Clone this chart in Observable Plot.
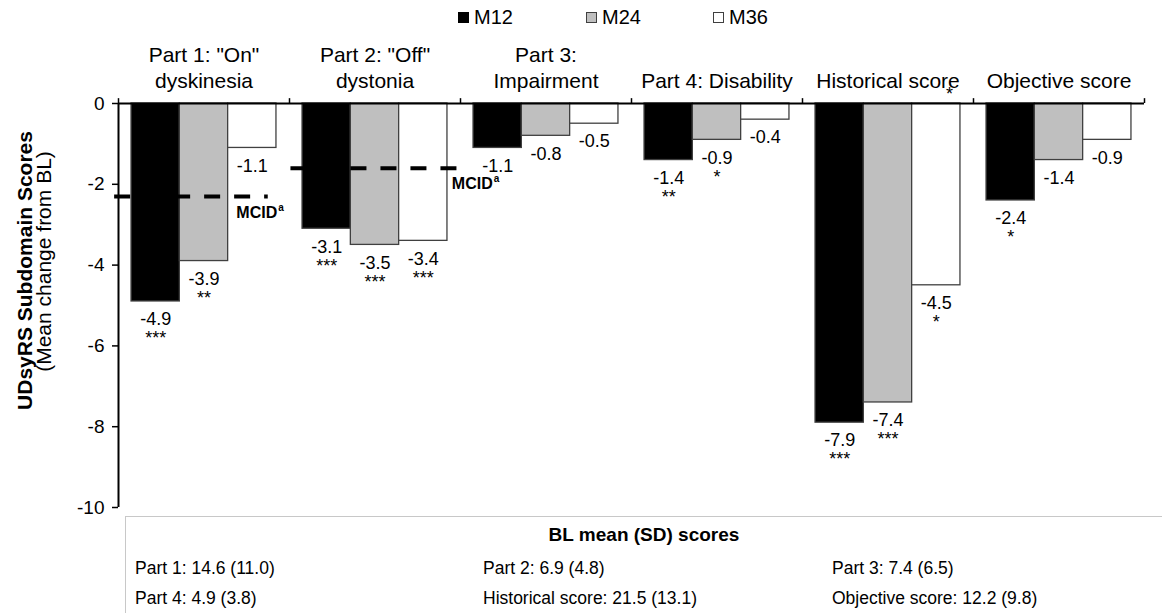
<!DOCTYPE html>
<html><head><meta charset="utf-8">
<script src="https://cdn.jsdelivr.net/npm/d3@7"></script>
<script src="https://cdn.jsdelivr.net/npm/@observablehq/plot@0.6"></script>
<style>
body{margin:0;background:#fff;font-family:"Liberation Sans",Arial,sans-serif;color:#000;overflow:hidden;}
#legend{position:relative;height:30px;width:1162px;}
.li{position:absolute;top:0;display:flex;align-items:center;height:35px;font-size:20px;}
.sw{width:11px;height:11px;box-sizing:border-box;border:1px solid #404040;margin-right:5px;}
#chart svg{display:block;}
#bl{margin-left:125px;margin-top:-4px;border-top:1px solid #c8c8c8;border-left:1px solid #c8c8c8;height:97px;box-sizing:border-box;width:1037px;}
#bl .t{font-weight:bold;font-size:19px;text-align:center;height:36px;line-height:36px;}
#bl .row{display:flex;font-size:17.5px;height:30px;align-items:center;padding-left:9px;}
#bl .row div{flex:0 0 auto;}
</style>
</head><body>
<div id="legend"></div>
<div id="chart"></div>
<div id="bl"></div>
<script>
// ---- data ----
const categories = ['Part 1: "On"\ndyskinesia', 'Part 2: "Off"\ndystonia', 'Part 3:\nImpairment', 'Part 4: Disability', 'Historical score', 'Objective score'];
const periods = ["M12", "M24", "M36"];
const m12 = [-4.9, -3.1, -1.1, -1.4, -7.9, -2.4];
const m24 = [-3.9, -3.5, -0.8, -0.9, -7.4, -1.4];
const m36 = [-1.1, -3.4, -0.5, -0.4, -4.5, -0.9];
const sig12 = ["***", "***", "", "**", "***", "*"];
const sig24 = ["**", "***", "", "*", "***", ""];
const sig36 = ["", "***", "", "", "*", ""];
const mcidCategories = [categories[0], categories[1]];
const mcidValues = [-2.3, -1.6];
const yTicks = [0, -2, -4, -6, -8, -10];
const yTitle = "UDsyRS Subdomain Scores";
const ySubtitle = "(Mean change from BL)";
const blTitle = "BL mean (SD) scores";
const blLabels = ["Part 1: 14.6 (11.0)", "Part 2: 6.9 (4.8)", "Part 3: 7.4 (6.5)",
                  "Part 4: 4.9 (3.8)", "Historical score: 21.5 (13.1)", "Objective score: 12.2 (9.8)"];

// ---- styles / layout ----
const fills = ["#000000", "#bfbfbf", "#ffffff"];
const font = '"Liberation Sans", Arial, sans-serif';
const xPad = 0.27;
const xDomain = [-xPad, periods.length + xPad];
const tickUp = 0.12;
// MCID line extents and label positions (within facet, in bar units)
const mcidSpan = [[-0.35, 2.83], [-0.24, 3.24]];
const mcidLabelX = [2.17, 3.09];
const blColWidths = [348, 349, 340];

const series = [m12, m24, m36];
const sigs = [sig12, sig24, sig36];
const rows = [];
categories.forEach((c, i) => periods.forEach((p, j) => rows.push({cat: c, period: p, j, value: series[j][i], sig: sigs[j][i]})));
const mcid = mcidCategories.map((c, k) => ({cat: c, value: mcidValues[k], x1: mcidSpan[k][0], x2: mcidSpan[k][1], lx: mcidLabelX[k]}));

// legend
const legendLeft = [458, 586, 713];
const leg = document.getElementById("legend");
periods.forEach((p, j) => {
  const d = document.createElement("div");
  d.className = "li"; d.style.left = legendLeft[j] + "px";
  const s = document.createElement("div"); s.className = "sw"; s.style.background = fills[j];
  if (j === 0) s.style.borderColor = "#000";
  d.appendChild(s); d.appendChild(document.createTextNode(p));
  leg.appendChild(d);
});

const chart = Plot.plot({
  width: 1162, height: 490,
  marginTop: 73, marginLeft: 117, marginRight: 17, marginBottom: 13,
  style: {fontFamily: font, fontSize: "18px", color: "#000", background: "#fff"},
  x: {domain: xDomain, axis: null},
  y: {domain: [-10, 0], axis: null},
  fx: {domain: categories, padding: 0, axis: null},
  color: {domain: periods, range: fills},
  marks: [
    Plot.axisFx({anchor: "top", tickSize: 0, tickPadding: 16, fontSize: 21, lineHeight: 1.2, label: null}),
    Plot.rect(rows, {fx: "cat", x1: "j", x2: d => d.j + 1, y1: 0, y2: "value", fill: "period", stroke: "#404040", strokeWidth: 1.3}),
    Plot.ruleY([0], {stroke: "#000", strokeWidth: 2}),
    Plot.ruleX(categories, {fx: d => d, x: () => xDomain[0], y1: 0, y2: tickUp, strokeWidth: 1.5}),
    Plot.ruleX([categories[categories.length - 1]], {fx: d => d, x: () => xDomain[1], y1: 0, y2: tickUp, strokeWidth: 1.5}),
    Plot.ruleX([categories[0]], {fx: d => d, x: () => xDomain[0], y1: -10, y2: 0, strokeWidth: 2}),
    Plot.axisY({ticks: yTicks, tickSize: 6, tickPadding: 8, fontSize: 19, tickFormat: d => String(d), label: null, strokeWidth: 1.5}),
    Plot.ruleY(mcid, {fx: "cat", y: "value", x1: "x1", x2: "x2", stroke: "#000", strokeWidth: 4, strokeDasharray: "16,14"}),
    Plot.text(mcid, {fx: "cat", x: "lx", y: "value", text: () => "MCID", textAnchor: "start", dy: 16, fontSize: 16, fontWeight: "bold"}),
    Plot.text(mcid, {fx: "cat", x: "lx", y: "value", text: () => "a", textAnchor: "start", dx: 42, dy: 11, fontSize: 10, fontWeight: "bold"}),
    Plot.text(rows, {fx: "cat", x: d => d.j + 0.5, y: "value", text: d => d.value.toFixed(1), dy: 18, fontSize: 18}),
    Plot.text(rows.filter(d => d.sig), {fx: "cat", x: d => d.j + 0.5, y: "value", text: "sig", dy: 37, fontSize: 18}),
    Plot.text(["*"], {fx: () => categories[4], frameAnchor: "top-right", textAnchor: "middle", text: d => d, dx: -24, dy: -16, fontSize: 18}),
    Plot.text([yTitle], {fx: () => categories[0], frameAnchor: "left", textAnchor: "middle", text: d => d, rotate: -90, dx: -93, dy: -35, fontSize: 21, fontWeight: "bold"}),
    Plot.text([ySubtitle], {fx: () => categories[0], frameAnchor: "left", textAnchor: "middle", text: d => d, rotate: -90, dx: -74, dy: -44, fontSize: 21})
  ]
});
document.getElementById("chart").appendChild(chart);

// BL table
const bl = document.getElementById("bl");
const t = document.createElement("div"); t.className = "t"; t.textContent = blTitle; bl.appendChild(t);
for (let r = 0; r < 2; r++) {
  const row = document.createElement("div"); row.className = "row";
  for (let c = 0; c < 3; c++) {
    const cell = document.createElement("div"); cell.style.width = blColWidths[c] + "px";
    cell.textContent = blLabels[r * 3 + c]; row.appendChild(cell);
  }
  bl.appendChild(row);
}
</script>
</body></html>
